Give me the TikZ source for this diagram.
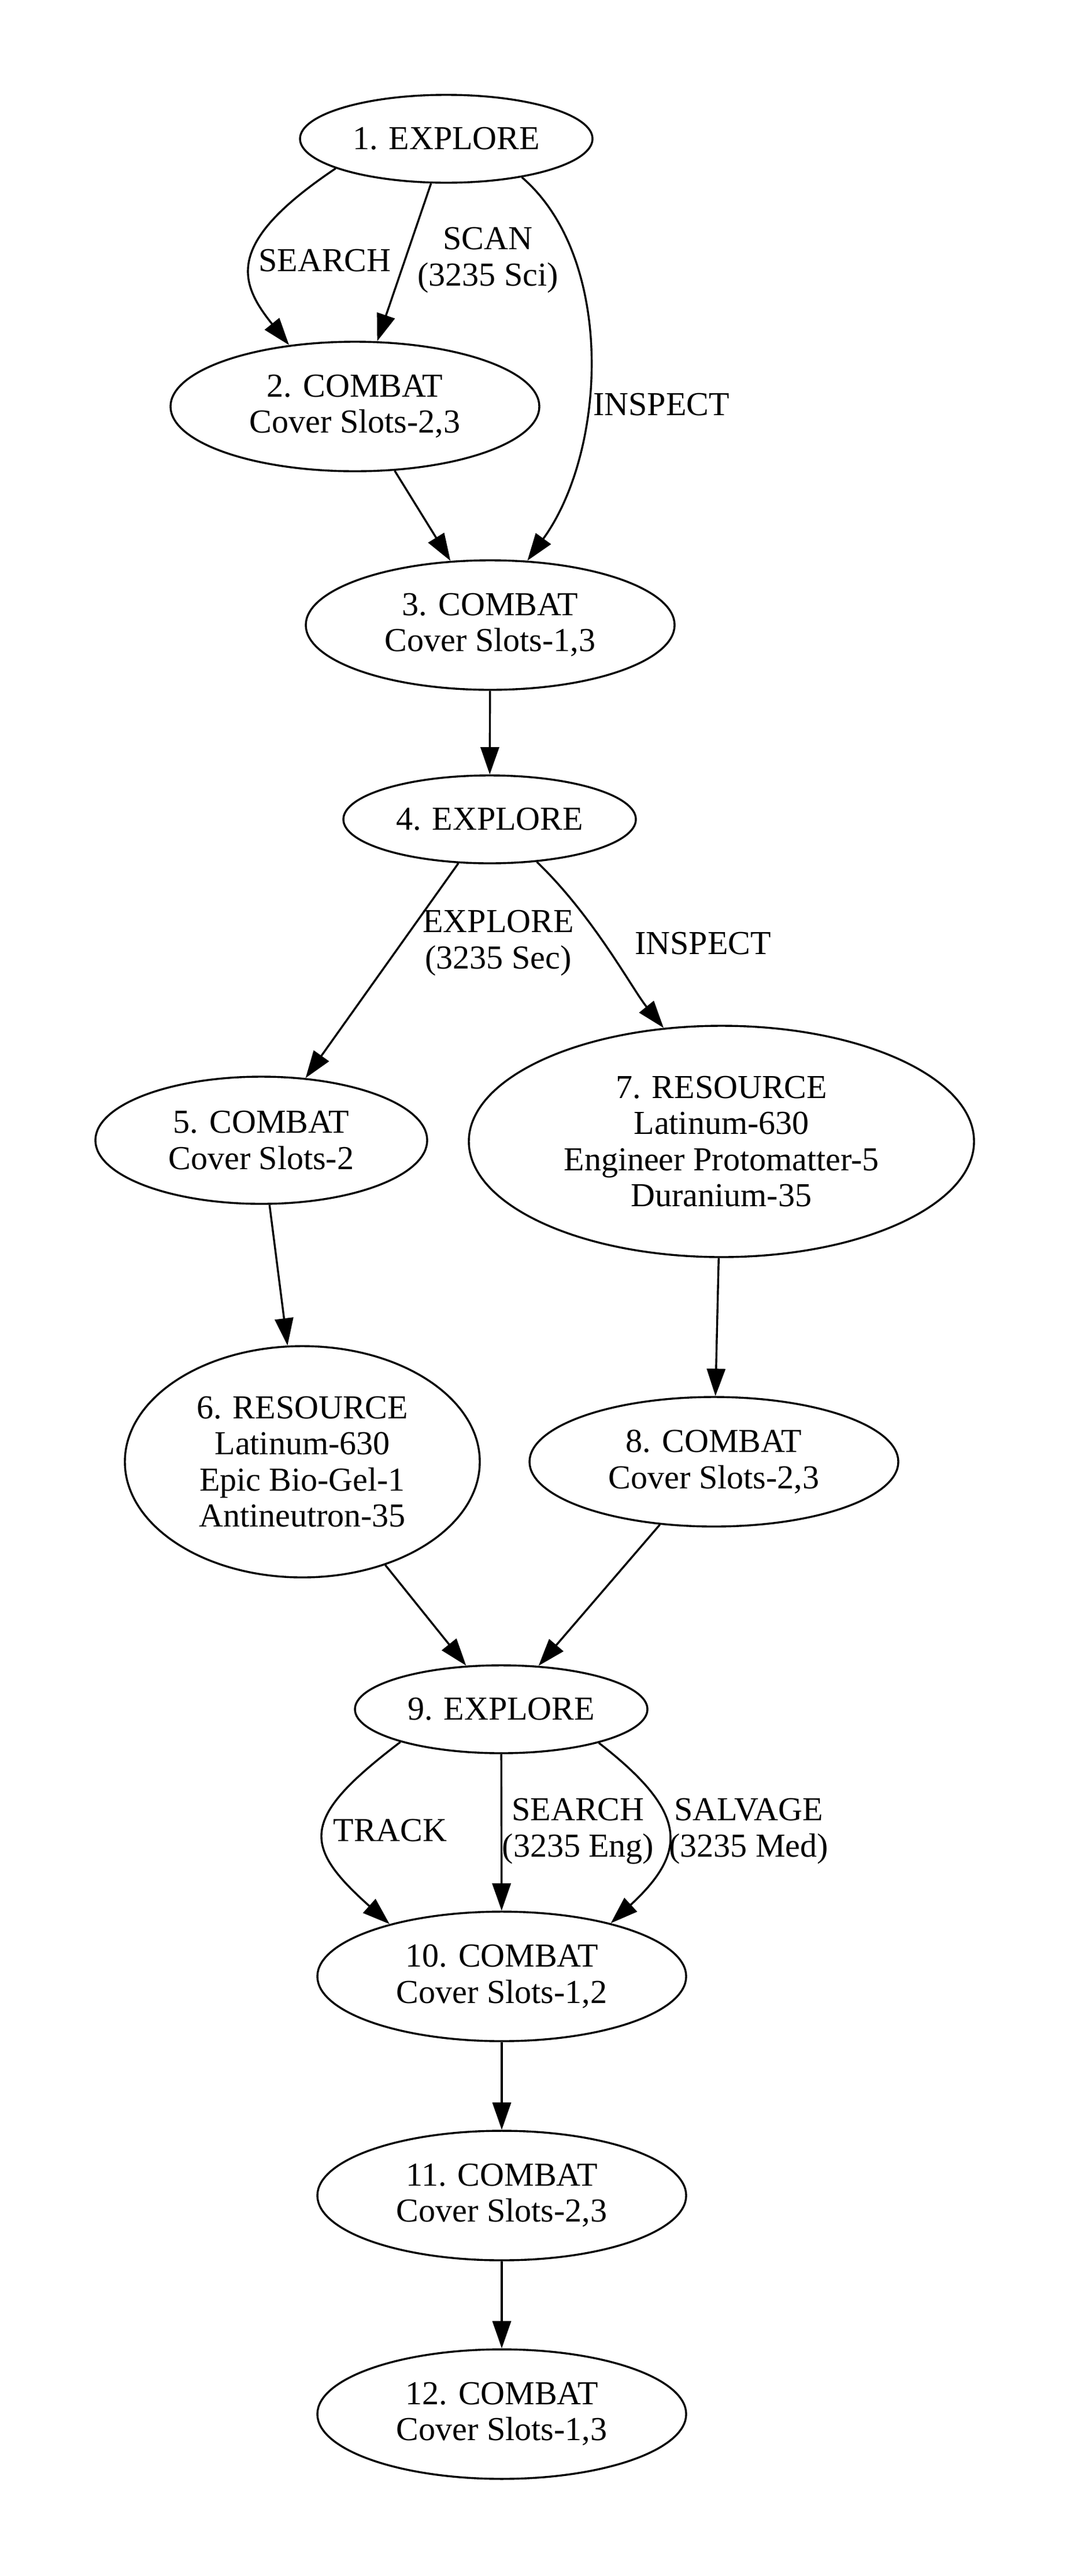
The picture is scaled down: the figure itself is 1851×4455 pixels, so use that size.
\documentclass[tikz,border=0pt]{standalone}
\usepackage{fontspec}
\setmainfont{Liberation Serif}
\usetikzlibrary{shapes.geometric,arrows.meta}
\tikzset{
  state/.style={ellipse, draw, line width=0.85pt, inner sep=0pt, align=center, font=\fontsize{14.5}{15.6}\selectfont},
  explore/.style={state, minimum width=126.5pt, minimum height=38pt},
  combat/.style={state, minimum width=159.5pt, minimum height=56pt},
  resource/.style={state, minimum height=100pt},
  flow/.style={draw, line width=0.85pt, -{Triangle[length=11.8pt, width=8pt]}},
  lab/.style={align=center, inner sep=0pt, font=\fontsize{14.5}{15.6}\selectfont},
}
\begin{document}
\begin{tikzpicture}[x=0.25pt, y=-0.25pt]
  \useasboundingbox (0,0) rectangle (1851,4455);
  \fill[white] (0,0) rectangle (1851,4455);

  \node[explore] (s1) at (772,240) {1. EXPLORE};
  \node[combat] (s2) at (614,703) {2. COMBAT\\Cover Slots-2,3};
  \node[combat] (s3) at (848,1081) {3. COMBAT\\Cover Slots-1,3};
  \node[explore] (s4) at (847,1417) {4. EXPLORE};
  \node[combat, minimum width=143.5pt, minimum height=55pt] (s5) at (452,1972) {5. COMBAT\\Cover Slots-2};
  \node[resource, minimum width=153.5pt] (s6) at (523,2528) {6. RESOURCE\\Latinum-630\\Epic Bio-Gel-1\\Antineutron-35};
  \node[resource, minimum width=218.5pt] (s7) at (1248,1974) {7. RESOURCE\\Latinum-630\\Engineer Protomatter-5\\Duranium-35};
  \node[combat] (s8) at (1235,2528) {8. COMBAT\\Cover Slots-2,3};
  \node[explore] (s9) at (867,2956) {9. EXPLORE};
  \node[combat] (s10) at (868,3418) {10. COMBAT\\Cover Slots-1,2};
  \node[combat] (s11) at (868,3797) {11. COMBAT\\Cover Slots-2,3};
  \node[combat] (s12) at (868,4175) {12. COMBAT\\Cover Slots-1,3};

  % top block
  \draw[flow] (s1.195) .. controls (392,418) and (410,485) .. (s2.137);
  \draw[flow] (s1) -- (s2);
  \draw[flow] (s1.333) .. controls (1065,446) and (1050,780) .. (s3.60);
  \draw[flow] (s2) -- (s3);
  \draw[flow] (s3) -- (s4);

  % two branches
  \draw[flow] (s4) -- (s5);
  \draw[flow] (s4.318) .. controls (1027,1585) and (1094,1711) .. (s7.117);
  \draw[flow] (s5) -- (s6);
  \draw[flow] (s7) -- (s8);
  \draw[flow] (s6) -- (s9);
  \draw[flow] (s8) -- (s9);

  % bottom block
  \draw[flow] (s9.198) .. controls (520,3144) and (521,3191) .. (s10.155);
  \draw[flow] (s9) -- (s10);
  \draw[flow] (s9.341) .. controls (1189,3133) and (1192,3201) .. (s10.26);
  \draw[flow] (s10) -- (s11);
  \draw[flow] (s11) -- (s12);

  \node[lab] (l1) at (562,451) {SEARCH};
  \node[lab] (l2) at (844,450) {SCAN\\(3235 Sci)};
  \node[lab] (l3) at (1144,700) {INSPECT};
  \node[lab] (l4) at (862,1631) {EXPLORE\\(3235 Sec)};
  \node[lab] (l5) at (1216,1632) {INSPECT};
  \node[lab] (l6) at (675,3166) {TRACK};
  \node[lab] (l7) at (1000,3167) {SEARCH\\(3235 Eng)};
  \node[lab] (l8) at (1295,3167) {SALVAGE\\(3235 Med)};
\end{tikzpicture}
\end{document}
